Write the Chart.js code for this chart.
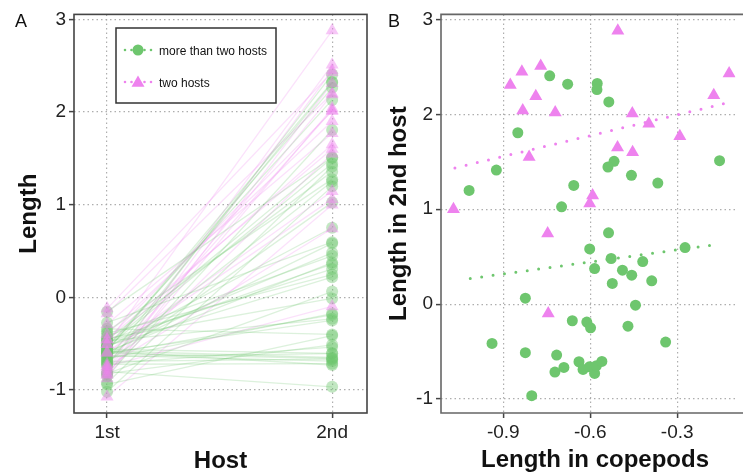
<!DOCTYPE html>
<html>
<head>
<meta charset="utf-8">
<script src="https://cdn.jsdelivr.net/npm/chart.js@4/dist/chart.umd.min.js"></script>
<style>
  html, body { margin: 0; padding: 0; background: #fff; }
  #wrap { position: relative; width: 743px; height: 475px; overflow: hidden; }
  #boxA { position: absolute; left: 0; top: 0; width: 380px; height: 475px; }
  #boxB { position: absolute; left: 380px; top: 0; width: 363px; height: 475px; }
</style>
</head>
<body>
<div id="wrap">
  <div id="boxA"><canvas id="chartA" width="380" height="475"></canvas></div>
  <div id="boxB"><canvas id="chartB" width="363" height="475"></canvas></div>
</div>
<script>
// ---- data ----
const hostLabels = ['1st', '2nd'];
const groupNames = ['more than two hosts', 'two hosts'];
const lengthTicks = [-1, 0, 1, 2, 3];
const lengthTickLabels = ['-1', '0', '1', '2', '3'];
const copepodTicks = [-0.9, -0.6, -0.3];
const copepodTickLabels = ['-0.9', '-0.6', '-0.3'];

// species with more than two hosts: length in copepods (1st host) and in the 2nd host
const multiCopepod = [-0.740, -0.678, -0.576, -0.577, -0.536, -0.850, -0.924, -1.018, -0.518, -0.539,
  -0.458, -0.657, -0.367, -0.154, -0.699, -0.537, -0.602, -0.528, -0.585, -0.489,
  -0.457, -0.419, -0.524, -0.388, -0.273, -0.824, -0.444, -0.662, -0.612, -0.599,
  -0.470, -0.939, -0.340, -0.824, -0.716, -0.722, -0.691, -0.639, -0.625, -0.603,
  -0.585, -0.579, -0.560, -0.802];
const multiSecond = [2.406, 2.318, 2.325, 2.261, 2.131, 1.806, 1.413, 1.198, 1.505, 1.445,
  1.357, 1.251, 1.276, 1.512, 1.025, 0.751, 0.582, 0.481, 0.375, 0.358,
  0.305, 0.449, 0.218, 0.246, 0.596, 0.063, -0.011, -0.175, -0.189, -0.249,
  -0.232, -0.414, -0.400, -0.512, -0.537, -0.716, -0.667, -0.607, -0.688, -0.660,
  -0.730, -0.649, -0.604, -0.965];

// species with two hosts
const twoCopepod = [-0.505, -0.121, -0.876, -0.836, -0.771, -0.788, -0.833, -0.721, -0.455, -0.398,
  -0.291, -0.174, -0.506, -0.454, -0.811, -0.592, -0.602, -1.072, -0.747, -0.745];
const twoSecond = [2.88, 2.43, 2.31, 2.45, 2.51, 2.19, 2.04, 2.02, 2.01, 1.90,
  1.77, 2.20, 1.65, 1.60, 1.55, 1.145, 1.06, 1.00, 0.744, -0.098];

// fitted trend lines (endpoints) for panel B
const multiTrendX = [-1.014, -0.168];
const multiTrendY = [0.270, 0.628];
const twoTrendX = [-1.067, -0.123];
const twoTrendY = [1.435, 2.124];

// ---- styling ----
const FONT = "'Liberation Sans', Arial, Helvetica, sans-serif";
const GREEN = 'rgb(110,198,110)';
const PINK = 'rgb(238,130,238)';
const GREEN_A = (a) => `rgba(110,198,110,${a})`;
const PINK_A = (a) => `rgba(238,130,238,${a})`;
const DOT = [1.5, 3];

function gridOpts() {
  return {
    color: 'rgba(165,165,165,0.9)', lineWidth: 1.2, borderDash: DOT,
    drawTicks: true, tickLength: 5, tickColor: '#444', tickWidth: 1.5, tickBorderDash: []
  };
}
function tickFont() { return { family: FONT, size: 19 }; }
function fixedTicks(values) {
  return (scale) => { scale.ticks = values.map(v => ({ value: v })); };
}
function labelFrom(values, labels) {
  return (v) => { const i = values.indexOf(v); return i >= 0 ? labels[i] : ''; };
}

// ---- panel A: slope chart ----
const lineSets = [];
multiCopepod.forEach((c, i) => lineSets.push({
  data: [{ x: 1, y: c }, { x: 2, y: multiSecond[i] }],
  showLine: true, borderColor: GREEN_A(0.24), borderWidth: 1.3, pointRadius: 0, order: 3
}));
twoCopepod.forEach((c, i) => lineSets.push({
  data: [{ x: 1, y: c }, { x: 2, y: twoSecond[i] }],
  showLine: true, borderColor: PINK_A(0.24), borderWidth: 1.3, pointRadius: 0, order: 3
}));
const multiPointsA = multiCopepod.map(c => ({ x: 1, y: c })).concat(multiSecond.map(s => ({ x: 2, y: s })));
const twoPointsA = twoCopepod.map(c => ({ x: 1, y: c })).concat(twoSecond.map(s => ({ x: 2, y: s })));

function drawText(ctx, text, x, y, font, align, rot) {
  ctx.save();
  ctx.translate(x, y);
  if (rot) ctx.rotate(rot);
  ctx.font = font;
  ctx.fillStyle = '#111';
  ctx.textAlign = align || 'center';
  ctx.textBaseline = 'alphabetic';
  ctx.fillText(text, 0, 0);
  ctx.restore();
}

const panelAExtras = {
  id: 'panelAExtras',
  afterDraw(chart) {
    const { ctx, chartArea: a } = chart;
    ctx.save();
    ctx.strokeStyle = '#444';
    ctx.lineWidth = 1.6;
    ctx.strokeRect(a.left, a.top, a.right - a.left, a.bottom - a.top);
    ctx.restore();
    drawText(ctx, 'A', 15, 27, `18px ${FONT}`, 'left');
    drawText(ctx, 'Length', 36, (a.top + a.bottom) / 2, `bold 24px ${FONT}`, 'center', -Math.PI / 2);
    drawText(ctx, 'Host', (a.left + a.right) / 2, 468, `bold 24px ${FONT}`, 'center');

    // legend box
    ctx.save();
    ctx.fillStyle = '#fff';
    ctx.fillRect(116, 28, 160, 75);
    ctx.strokeStyle = '#333';
    ctx.lineWidth = 1.5;
    ctx.strokeRect(116, 28, 160, 75);
    const items = [
      { name: groupNames[0], color: GREEN, style: 'circle', radius: 5.5, y: 50 },
      { name: groupNames[1], color: PINK, style: 'triangle', radius: 7.5, y: 82 }
    ];
    items.forEach(it => {
      ctx.save();
      ctx.strokeStyle = it.color;
      ctx.lineWidth = 2.6;
      ctx.lineCap = 'round';
      ctx.setLineDash([0, 6.5]);
      ctx.beginPath();
      ctx.moveTo(125, it.y);
      ctx.lineTo(152, it.y);
      ctx.stroke();
      ctx.restore();
      ctx.save();
      ctx.fillStyle = it.color;
      Chart.helpers.drawPoint(ctx, { pointStyle: it.style, radius: it.radius, borderWidth: 0 }, 138, it.y + (it.style === 'triangle' ? 1 : 0));
      ctx.restore();
      drawText(ctx, it.name, 159, it.y + 4.5, `12px ${FONT}`, 'left');
    });
    ctx.restore();
  }
};

new Chart(document.getElementById('chartA'), {
  type: 'scatter',
  data: {
    datasets: lineSets.concat([
      { data: multiPointsA, pointStyle: 'circle', pointRadius: 6, backgroundColor: GREEN_A(0.42), borderWidth: 0, order: 1 },
      { data: twoPointsA, pointStyle: 'triangle', pointRadius: 7.5, backgroundColor: PINK_A(0.45), borderWidth: 0, order: 0 }
    ])
  },
  options: {
    responsive: false, animation: false, devicePixelRatio: 1,
    layout: { padding: { top: 14, right: 13, left: 0, bottom: 0 } },
    plugins: { legend: { display: false }, tooltip: { enabled: false } },
    scales: {
      x: {
        type: 'linear', min: 0.853, max: 2.155,
        afterBuildTicks: fixedTicks([1, 2]),
        afterFit: (s) => { s.height = 62; },
        ticks: { font: tickFont(), color: '#222', padding: 3, callback: (v) => hostLabels[v - 1] || '' },
        grid: gridOpts(), border: { display: false, dash: DOT }
      },
      y: {
        type: 'linear', min: -1.248, max: 3.054,
        afterBuildTicks: fixedTicks(lengthTicks),
        afterFit: (s) => { s.width = 74; },
        ticks: { font: tickFont(), color: '#222', padding: 3, callback: labelFrom(lengthTicks, lengthTickLabels) },
        grid: gridOpts(), border: { display: false, dash: DOT }
      }
    }
  },
  plugins: [panelAExtras]
});

// ---- panel B: scatter with trends ----
const panelBExtras = {
  id: 'panelBExtras',
  afterDraw(chart) {
    const { ctx, chartArea: a } = chart;
    ctx.save();
    ctx.strokeStyle = '#666';
    ctx.lineWidth = 1.6;
    ctx.beginPath();
    ctx.moveTo(chart.width + 2, a.top);
    ctx.lineTo(a.left, a.top);
    ctx.lineTo(a.left, a.bottom);
    ctx.lineTo(chart.width + 2, a.bottom);
    ctx.stroke();
    ctx.restore();
    drawText(ctx, 'B', 8, 27, `18px ${FONT}`, 'left');
    drawText(ctx, 'Length in 2nd host', 26, (a.top + a.bottom) / 2, `bold 24px ${FONT}`, 'center', -Math.PI / 2);
    drawText(ctx, 'Length in copepods', 215, 467, `bold 24px ${FONT}`, 'center');
  }
};

new Chart(document.getElementById('chartB'), {
  type: 'scatter',
  data: {
    datasets: [
      { data: multiTrendX.map((x, i) => ({ x, y: multiTrendY[i] })), showLine: true, pointRadius: 0,
        borderColor: GREEN, borderWidth: 3, borderDash: [0, 11.5], borderCapStyle: 'round', order: 3 },
      { data: twoTrendX.map((x, i) => ({ x, y: twoTrendY[i] })), showLine: true, pointRadius: 0,
        borderColor: PINK, borderWidth: 3, borderDash: [0, 11.5], borderCapStyle: 'round', order: 3 },
      { data: multiCopepod.map((x, i) => ({ x, y: multiSecond[i] })), pointStyle: 'circle', pointRadius: 5.5,
        backgroundColor: GREEN, borderWidth: 0, order: 1 },
      { data: twoCopepod.map((x, i) => ({ x, y: twoSecond[i] })), pointStyle: 'triangle', pointRadius: 7.5,
        backgroundColor: PINK, borderWidth: 0, order: 0 }
    ]
  },
  options: {
    responsive: false, animation: false, devicePixelRatio: 1,
    layout: { padding: { top: 14, right: 0, left: 0, bottom: 0 } },
    plugins: { legend: { display: false }, tooltip: { enabled: false } },
    scales: {
      x: {
        type: 'linear', min: -1.115, max: -0.099,
        afterBuildTicks: fixedTicks(copepodTicks),
        afterFit: (s) => { s.height = 62; },
        ticks: { font: tickFont(), color: '#222', padding: 3, callback: labelFrom(copepodTicks, copepodTickLabels) },
        grid: gridOpts(), border: { display: false, dash: DOT }
      },
      y: {
        type: 'linear', min: -1.147, max: 3.053,
        afterBuildTicks: fixedTicks(lengthTicks),
        afterFit: (s) => { s.width = 61; },
        ticks: { font: tickFont(), color: '#222', padding: 3, callback: labelFrom(lengthTicks, lengthTickLabels) },
        grid: gridOpts(), border: { display: false, dash: DOT }
      }
    }
  },
  plugins: [panelBExtras]
});
</script>
</body>
</html>
